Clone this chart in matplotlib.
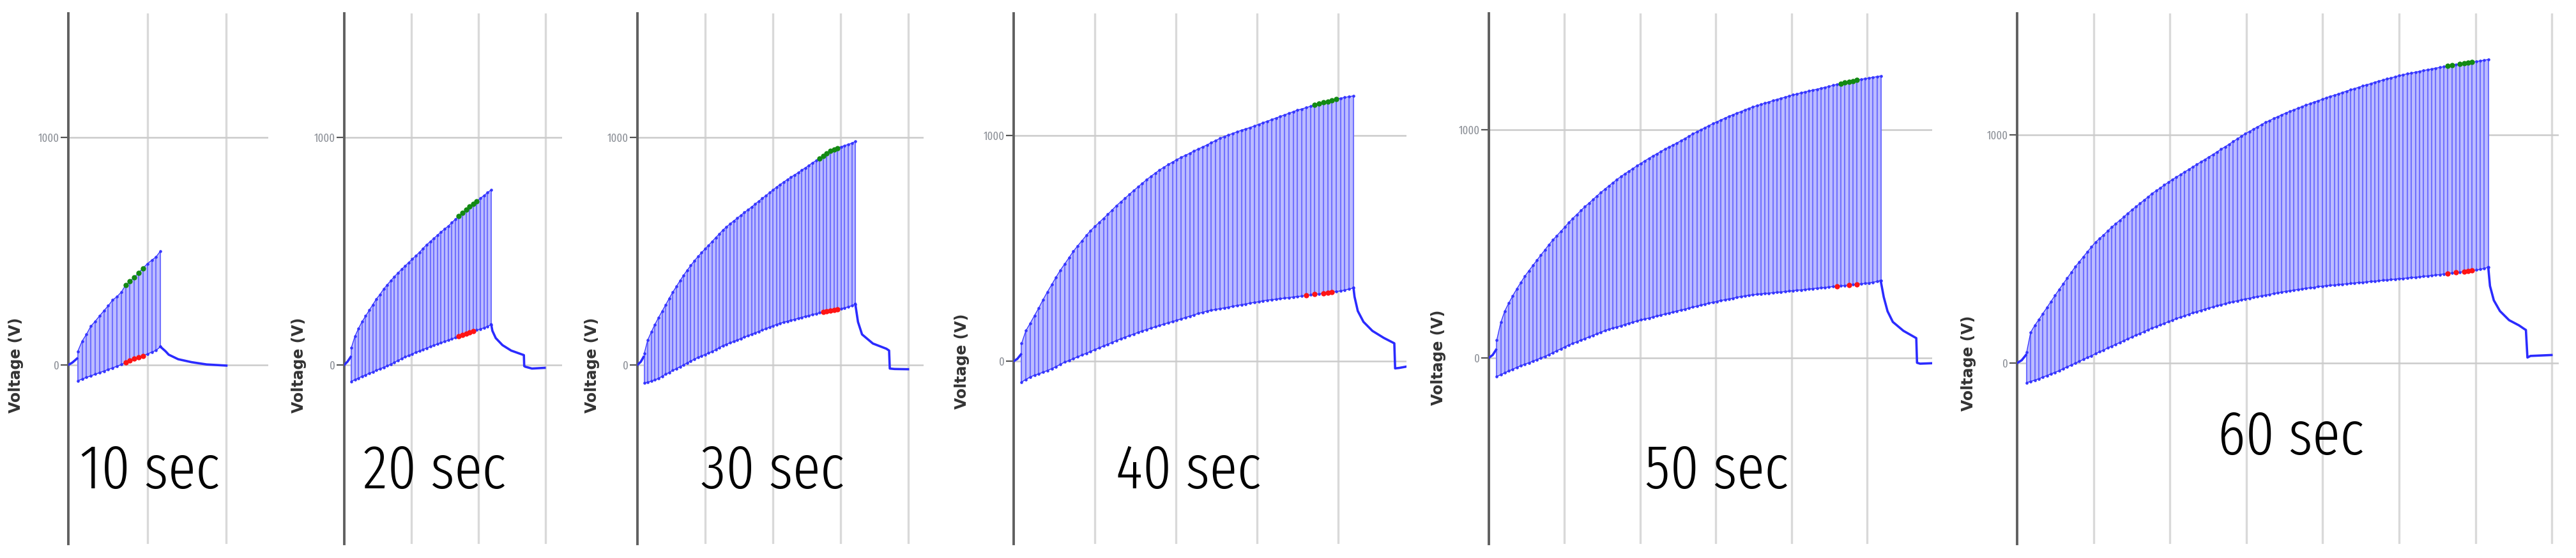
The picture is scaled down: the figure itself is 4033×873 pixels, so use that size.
import numpy as np
import matplotlib.pyplot as plt
from matplotlib import font_manager
from matplotlib.transforms import blended_transform_factory

# pulse-train labels
LABELS = ['10 sec', '20 sec', '30 sec', '40 sec', '50 sec', '60 sec']

# peak / trough voltage of every pulse (V)
PEAK_10 = [60, 105, 135, 170, 192, 215, 238, 260, 285, 300, 320, 350, 368, 385, 405, 425, 445, 460, 475, 500]
TROUGH_10 = [-70, -62, -55, -48, -41, -34, -27, -20, -13, -6, 2, 10, 20, 27, 33, 40, 48, 56, 64, 80]

PEAK_20 = [75, 125, 160, 190, 215, 240, 265, 290, 310, 333, 352, 370, 388, 404, 420, 435, 450, 465, 480, 495,
           512, 528, 542, 556, 570, 584, 597, 610, 625, 640, 654, 668, 682, 696, 708, 720, 732, 745, 757, 770]
TROUGH_20 = [-72, -65, -58, -50, -44, -37, -31, -24, -17, -11, -4, 3, 11, 19, 27, 35, 41, 48, 55, 61,
             68, 74, 80, 86, 92, 97, 103, 108, 114, 120, 127, 133, 138, 143, 148, 153, 158, 163, 169, 178]

PEAK_30 = [50, 110, 145, 178, 208, 236, 264, 293, 320, 345, 370, 394, 416, 437, 457, 476, 493, 510, 526, 543,
           560, 576, 593, 607, 620, 633, 645, 658, 670, 682, 694, 707, 720, 732, 744, 757, 769, 782, 793, 804,
           815, 825, 835, 845, 856, 866, 877, 888, 898, 908, 919, 929, 940, 947, 953, 959, 964, 969, 975, 982]
TROUGH_30 = [-80, -76, -71, -66, -59, -50, -41, -33, -24, -16, -8, 0, 9, 17, 25, 33, 39, 46, 52, 59,
             67, 76, 85, 91, 97, 103, 109, 116, 122, 128, 135, 141, 147, 153, 159, 166, 172, 178, 183, 188,
             192, 196, 200, 205, 209, 213, 217, 221, 225, 229, 232, 235, 238, 241, 244, 247, 251, 255, 260, 268]

PEAK_40 = [79, 135, 168, 202, 236, 273, 307, 339, 372, 403, 430, 458, 486, 510, 533, 556, 578, 596, 614, 632,
           650, 669, 688, 705, 721, 738, 755, 771, 787, 803, 818, 832, 846, 858, 870, 881, 892, 902, 911, 920,
           930, 939, 948, 957, 967, 976, 986, 994, 1001, 1008, 1015, 1022, 1028, 1034, 1041, 1048, 1055, 1062,
           1069, 1076, 1083, 1090, 1097, 1104, 1111, 1116, 1122, 1128, 1134, 1140, 1145, 1150, 1155, 1160,
           1164, 1167, 1171, 1174]
TROUGH_40 = [-92, -81, -70, -62, -56, -49, -41, -33, -24, -14, -4, 3, 11, 19, 27, 35, 43, 51, 59, 67,
             75, 83, 91, 99, 106, 113, 120, 127, 134, 140, 146, 152, 158, 164, 170, 175, 181, 187, 193, 199,
             205, 211, 216, 222, 225, 229, 232, 236, 239, 243, 246, 250, 253, 257, 260, 263, 267, 270, 272, 274,
             277, 279, 281, 284, 286, 288, 291, 293, 296, 298, 300, 303, 305, 308, 311, 315, 319, 324]

PEAK_50 = [78, 155, 205, 240, 272, 302, 330, 357, 381, 404, 427, 450, 472, 495, 516, 535, 554, 573, 593, 611,
           628, 645, 662, 677, 693, 709, 724, 739, 753, 767, 781, 794, 806, 818, 829, 841, 852, 863, 874, 884,
           894, 904, 914, 923, 932, 941, 951, 961, 971, 981, 990, 999, 1008, 1017, 1026, 1034, 1042, 1050,
           1058, 1065, 1072, 1079, 1086, 1093, 1099, 1105, 1110, 1116, 1121, 1127, 1132, 1137, 1142, 1147,
           1152, 1156, 1161, 1165, 1169, 1173, 1177, 1181, 1185, 1189, 1194, 1198, 1202, 1206, 1210, 1213,
           1217, 1220, 1223, 1226, 1229, 1232, 1235]
TROUGH_50 = [-82, -74, -66, -58, -50, -42, -35, -28, -22, -15, -8, -1, 6, 14, 22, 31, 39, 48, 56, 63,
             70, 77, 84, 91, 98, 105, 112, 119, 125, 130, 135, 140, 146, 151, 156, 161, 166, 170, 174, 179,
             183, 187, 192, 196, 200, 205, 209, 213, 218, 222, 226, 231, 235, 239, 243, 247, 251, 254, 258, 261,
             265, 268, 271, 274, 276, 278, 280, 282, 283, 285, 287, 288, 290, 292, 294, 296, 297, 299, 301, 303,
             305, 306, 308, 310, 312, 313, 315, 317, 319, 320, 322, 324, 326, 328, 331, 334, 337]

PEAK_60 = [47, 135, 165, 190, 217, 243, 270, 296, 322, 347, 372, 397, 422, 444, 466, 488, 509, 530, 546, 562,
           579, 596, 611, 626, 641, 657, 672, 686, 700, 715, 729, 744, 756, 768, 781, 793, 805, 816, 827, 838,
           849, 860, 871, 882, 893, 904, 915, 926, 938, 949, 960, 972, 983, 995, 1006, 1016, 1026, 1036, 1046,
           1056, 1064, 1073, 1081, 1089, 1097, 1104, 1111, 1118, 1125, 1132, 1138, 1145, 1151, 1157, 1164,
           1170, 1175, 1181, 1187, 1193, 1199, 1204, 1210, 1216, 1221, 1226, 1232, 1237, 1242, 1247, 1251,
           1256, 1261, 1265, 1269, 1272, 1276, 1280, 1283, 1287, 1290, 1294, 1297, 1300, 1303, 1306, 1310,
           1313, 1315, 1318, 1320, 1323, 1326, 1329, 1332]
TROUGH_60 = [-86, -81, -75, -69, -62, -55, -48, -41, -34, -25, -17, -9, -1, 7, 16, 24, 32, 41, 49, 57,
             66, 74, 82, 90, 98, 106, 114, 122, 130, 138, 146, 153, 160, 167, 174, 181, 188, 195, 201, 207,
             214, 220, 225, 231, 236, 242, 246, 251, 256, 260, 265, 269, 273, 277, 281, 284, 288, 291, 295, 298,
             301, 305, 308, 311, 314, 317, 320, 322, 325, 328, 330, 332, 335, 337, 339, 341, 342, 344, 346, 347,
             349, 351, 353, 354, 356, 358, 359, 361, 363, 364, 366, 368, 370, 371, 373, 375, 376, 378, 380, 382,
             384, 386, 388, 391, 393, 395, 397, 399, 401, 403, 406, 408, 411, 415, 420]

# first pulse time and pulse interval (s)
PULSE_START = [1.2, 1.05, 1.0, 0.98, 1.05, 1.25]
PULSE_DT = [0.55, 0.535, 0.529, 0.531, 0.529, 0.53]

# pulses marked green (peak) and red (trough)
GREEN_IDX = [[11, 12, 13, 14, 15], [30, 31, 32, 33, 34, 35], [49, 50, 51, 52, 53, 54],
             [68, 69, 70, 71, 72, 73], [86, 87, 88, 89, 90], [104, 105, 107, 108, 109, 110]]
RED_IDX = [[11, 12, 13, 14, 15], [30, 31, 32, 33, 34], [50, 51, 52, 53, 54],
           [66, 68, 70, 71, 72], [85, 88, 90], [104, 106, 108, 109, 110]]

# baseline before the train
PRE_T = [[0, 0.5, 1.1], [0, 0.5, 0.95], [0, 0.5, 0.9], [0, 0.45, 0.9], [0, 0.5, 0.95], [0, 0.6, 1.15]]
PRE_V = [[0, 10, 28], [0, 15, 35], [0, 14, 35], [0, 10, 30], [0, 12, 35], [0, 12, 35]]

# relaxation after the train
TAIL_T = [[11.65, 12.3, 12.7, 13.9, 15.6, 17.5, 20.0],
          [21.92, 22.1, 22.6, 23.6, 24.9, 26.8, 26.85, 27.0, 28.0, 29.9],
          [32.2, 32.6, 33.2, 34.8, 36.8, 37.2, 37.3, 38.0, 40.0],
          [41.87, 42.0, 42.4, 43.1, 44.2, 45.6, 46.9, 47.0, 47.5, 48.4],
          [51.8, 52.2, 52.7, 53.4, 54.8, 56.5, 56.6, 57.0, 58.6],
          [61.67, 61.9, 62.4, 63.2, 64.4, 65.7, 66.4, 66.6, 66.8, 67.2, 69.95]]
TAIL_V = [[80, 60, 45, 25, 12, 2, -3],
          [178, 150, 118, 87, 63, 43, -5, -8, -16, -13],
          [268, 189, 134, 94, 71, 63, -16, -18, -19],
          [324, 285, 222, 174, 134, 103, 79, -32, -30, -24],
          [337, 266, 204, 157, 118, 86, -22, -26, -24],
          [420, 338, 275, 228, 188, 165, 149, 145, 24, 31, 35]]

PEAKS = [PEAK_10, PEAK_20, PEAK_30, PEAK_40, PEAK_50, PEAK_60]
TROUGHS = [TROUGH_10, TROUGH_20, TROUGH_30, TROUGH_40, TROUGH_50, TROUGH_60]

# layout (pixels of the 4033 x 873 canvas)
W, H = 4033, 873
AX_LEFT = [107, 539, 998, 1587, 2331, 3158]
AX_RIGHT = [420, 880, 1446, 2202, 3025, 4006]
AX_TOP, AX_BOTTOM = 21, 851
XMAX = [25.3, 32.5, 42.3, 48.4, 58.6, 70.9]
YLIMS = [(-787, 1545), (-787, 1545), (-787, 1545), (-809, 1539), (-816, 1509), (-794, 1534)]
YLABEL_OFF = [82, 71, 71, 81, 79, 76]
LABEL_POS = [(10.3, -542), (13.5, -542), (19.9, -542), (21.5, -563), (30.1, -573), (35.8, -401)]


def installed(cands):
    have = {f.name for f in font_manager.fontManager.ttflist}
    return [c for c in cands if c in have] + ['DejaVu Sans']


NARROW = installed(['Fira Sans Extra Condensed', 'Cabin Condensed', 'Archivo Narrow', 'Lato'])

fig = plt.figure(figsize=(W / 100, H / 100), dpi=100, facecolor='white')

for k in range(6):
    w_px = AX_RIGHT[k] - AX_LEFT[k]
    ax = fig.add_axes([AX_LEFT[k] / W, 1 - AX_BOTTOM / H, w_px / W, (AX_BOTTOM - AX_TOP) / H])
    ax.set_xlim(0, XMAX[k])
    ax.set_ylim(*YLIMS[k])
    ax.set_axisbelow(True)

    t = PULSE_START[k] + PULSE_DT[k] * np.arange(len(PEAKS[k]))
    pk = np.array(PEAKS[k])
    tr = np.array(TROUGHS[k])

    ax.fill_between(t, tr, pk, color='#bcbcff', lw=0, zorder=1)
    ax.vlines(t, tr, pk, color='#7070ff', lw=1.5, zorder=2)
    ax.plot(t, pk, color='#3434ff', lw=1.0, marker='o', ms=2.3, zorder=3)
    ax.plot(t, tr, color='#3434ff', lw=1.0, marker='o', ms=2.3, zorder=3)
    ax.plot(PRE_T[k], PRE_V[k], color='#2b2bff', lw=2.6, zorder=3)
    ax.plot(TAIL_T[k], TAIL_V[k], color='#2b2bff', lw=2.6, zorder=3)

    g = GREEN_IDX[k]
    r = RED_IDX[k]
    ax.scatter(t[g], pk[g], s=36, color='#138a13', lw=0, zorder=4)
    ax.scatter(t[r], tr[r], s=36, color='#ff1414', lw=0, zorder=4)

    ax.set_xticks(np.arange(10, XMAX[k], 10))
    ax.set_yticks([0, 1000])
    ax.tick_params(axis='x', length=0, labelbottom=False)
    ax.tick_params(axis='y', length=9, width=1.6, color='#555555', pad=1,
                   labelsize=13, labelcolor='#8d9198')
    for lab in ax.get_yticklabels():
        lab.set_family(NARROW)
    ax.xaxis.grid(True, color='#d9d9d9', lw=2.4)
    ax.yaxis.grid(True, color='#cbcbcb', lw=1.8)
    for side in ['top', 'right', 'bottom']:
        ax.spines[side].set_visible(False)
    ax.spines['left'].set_color('#606060')
    ax.spines['left'].set_linewidth(2.8)

    ax.set_ylabel('Voltage (V)', fontsize=17, fontweight='bold', color='#333333')
    ax.yaxis.label.set_va('center')
    ax.yaxis.set_label_coords(-YLABEL_OFF[k] / w_px, 0,
                              transform=blended_transform_factory(ax.transAxes, ax.transData))

    ax.text(LABEL_POS[k][0], LABEL_POS[k][1], LABELS[k], ha='center', va='baseline',
            fontsize=70, fontweight=300, family=NARROW, color='black')

fig.savefig('out.png', dpi=100, facecolor='white')
